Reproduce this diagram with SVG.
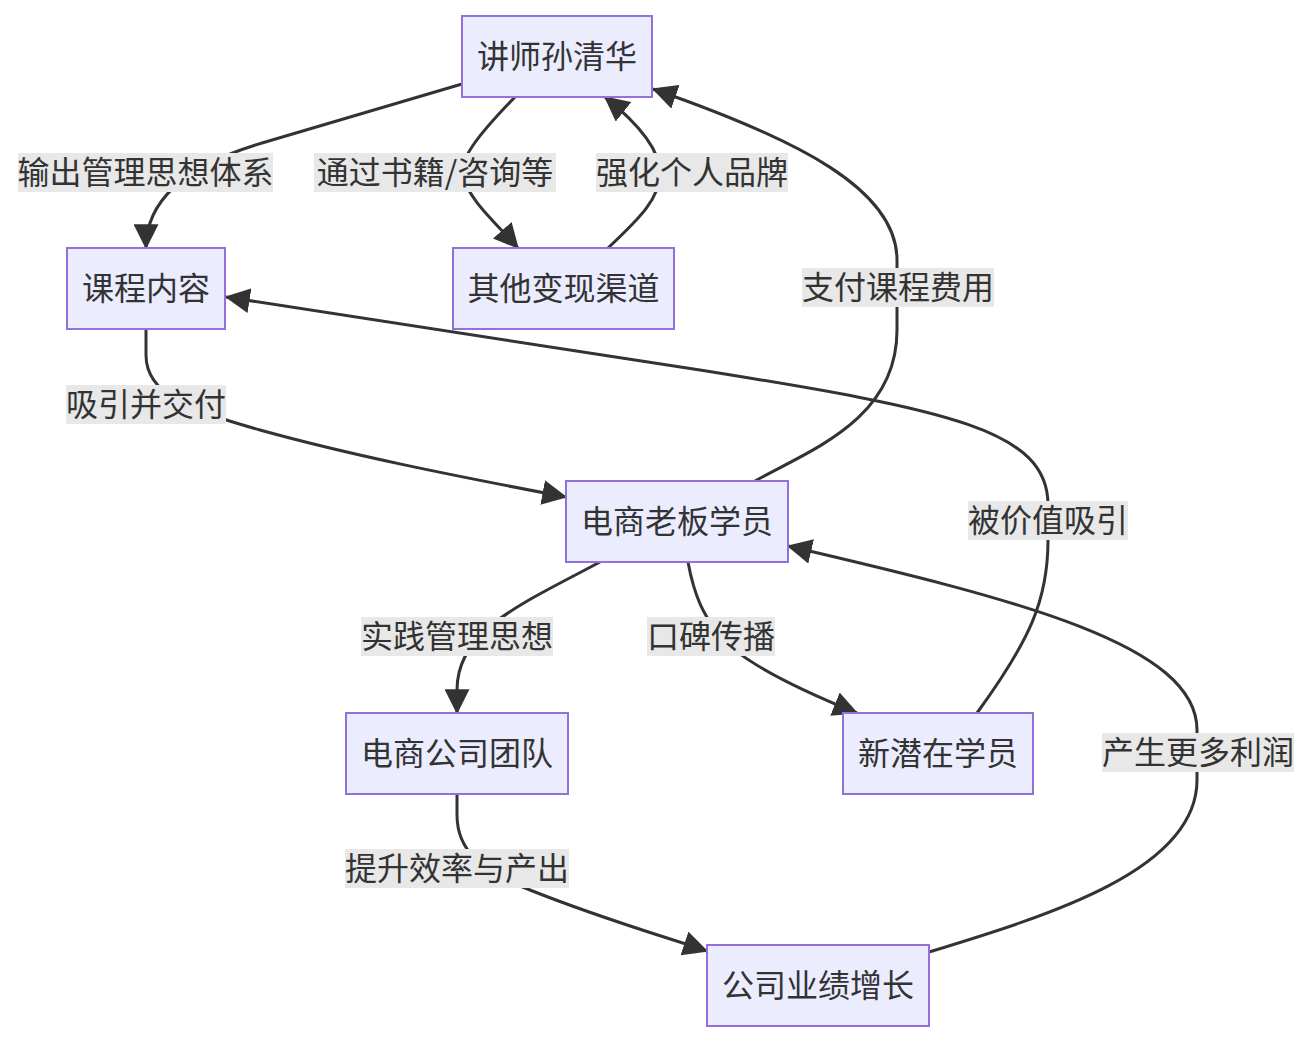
<svg xmlns="http://www.w3.org/2000/svg" width="1312" height="1044" viewBox="0 0 1312 1044">
<defs>
<style>
.node rect{fill:#ECECFF;stroke:#9370DB;stroke-width:2}
.node text,.lbl text{font-family:"Noto Sans CJK SC","Noto Sans",sans-serif;font-size:32px;fill:#333;text-anchor:middle;dominant-baseline:central}
.edge{fill:none;stroke:#333;stroke-width:3}
.lbl rect{fill:#e8e8e8}
</style>
<marker id="arr" markerUnits="userSpaceOnUse" markerWidth="25" markerHeight="25" viewBox="0 0 10 10" refX="9.5" refY="5" orient="auto">
<path d="M0,0 L10,5 L0,10 z" fill="#333"/>
</marker>
</defs>
<rect width="1312" height="1044" fill="#fff"/>
<g id="connectors">
<path class="edge" marker-end="url(#arr)" d="M462,84 L262,143 Q146,177 146,248"/>
<path class="edge" marker-end="url(#arr)" d="M515,97 C475,138 460,160 463,173 C466,198 495,222 518,248"/>
<path class="edge" marker-end="url(#arr)" d="M608,248 C640,218 660,198 660,173 C660,150 640,125 605,97"/>
<path class="edge" marker-end="url(#arr)" d="M755,481 C810,450 897,420 897,330 L897,260 C897,190 800,140 653,89"/>
<path class="edge" marker-end="url(#arr)" d="M146,329 L146,355 C146,395 190,410 260,430 C350,455 450,475 566,497"/>
<path class="edge" marker-end="url(#arr)" d="M977,713 C1030,640 1048,600 1048,540 L1048,505 C1048,430 950,410 700,370 L226,297"/>
<path class="edge" marker-end="url(#arr)" d="M600,562 C520,605 457,630 457,690 L457,713"/>
<path class="edge" marker-end="url(#arr)" d="M688,562 C695,600 705,615 715,630 C735,660 800,690 857,713"/>
<path class="edge" marker-end="url(#arr)" d="M457,794 L457,815 C457,850 480,870 530,890 C600,918 650,932 707,951"/>
<path class="edge" marker-end="url(#arr)" d="M929,952 C1050,915 1197,870 1197,780 L1197,730 C1197,645 1020,600 788,546"/>
</g>
<g id="edge-labels">
<g class="lbl"><rect x="18" y="153" width="255" height="39"/><text x="145.5" y="170">输出管理思想体系</text></g>
<g class="lbl"><rect x="314" y="153" width="242" height="39"/><text x="435" y="170">通过书籍/咨询等</text></g>
<g class="lbl"><rect x="596" y="153" width="192" height="39"/><text x="692" y="170">强化个人品牌</text></g>
<g class="lbl"><rect x="802" y="268" width="192" height="39"/><text x="898" y="285">支付课程费用</text></g>
<g class="lbl"><rect x="66" y="385" width="160" height="39"/><text x="146" y="402">吸引并交付</text></g>
<g class="lbl"><rect x="968" y="501" width="160" height="39"/><text x="1048" y="518">被价值吸引</text></g>
<g class="lbl"><rect x="361" y="617" width="192" height="39"/><text x="457" y="634">实践管理思想</text></g>
<g class="lbl"><rect x="647" y="617" width="128" height="39"/><text x="711" y="634">口碑传播</text></g>
<g class="lbl"><rect x="1102" y="733" width="192" height="39"/><text x="1198" y="750">产生更多利润</text></g>
<g class="lbl"><rect x="345" y="849" width="224" height="39"/><text x="457" y="866">提升效率与产出</text></g>
</g>
<g id="n-teacher" class="node"><rect x="462" y="16" width="190" height="81"/><text x="557" y="54">讲师孙清华</text></g>
<g id="n-course" class="node"><rect x="67" y="248" width="158" height="81"/><text x="146" y="286">课程内容</text></g>
<g id="n-other" class="node"><rect x="453" y="248" width="221" height="81"/><text x="563.5" y="286">其他变现渠道</text></g>
<g id="n-boss" class="node"><rect x="566" y="481" width="222" height="81"/><text x="677" y="519">电商老板学员</text></g>
<g id="n-team" class="node"><rect x="346" y="713" width="222" height="81"/><text x="457" y="751">电商公司团队</text></g>
<g id="n-new" class="node"><rect x="843" y="713" width="190" height="81"/><text x="938" y="751">新潜在学员</text></g>
<g id="n-growth" class="node"><rect x="707" y="945" width="222" height="81"/><text x="818" y="983">公司业绩增长</text></g>
</svg>
